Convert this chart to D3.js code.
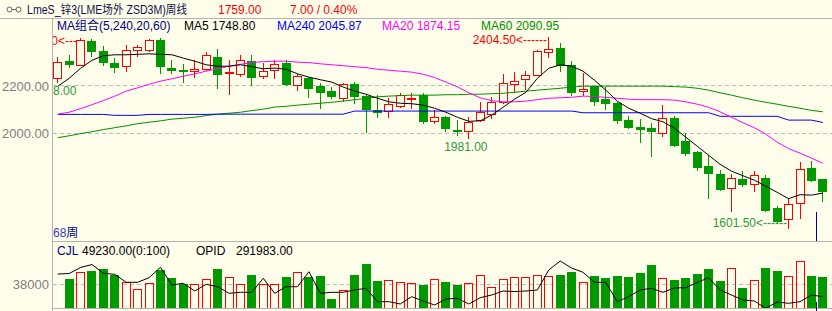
<!DOCTYPE html>
<meta charset="utf-8">
<style type="text/css">
body { margin: 0; background: #fffeea; }
#chart svg { display: block; font-family: "Liberation Sans", Arial, "Noto Sans CJK SC", sans-serif; font-size: 12px; }
.sep { stroke: #b4b4b4; shape-rendering: crispEdges; }
.grid { stroke: #bcbcbc; stroke-dasharray: 4,3; shape-rendering: crispEdges; }
.ma { fill: none; stroke-width: 1; }
.axis text { fill: #7f7f7f; font-size: 13px; font-family: "Liberation Sans", Arial, sans-serif; }
.axis path, .axis line { display: none; }
</style>
<body>
<div id="chart"></div>
<script src="https://d3js.org/d3.v7.min.js"></script>
<script>
// 68 weekly bars
var opens  = [2235, 2304, 2290, 2389, 2346, 2297, 2283, 2353, 2353, 2394, 2276, 2269, 2262, 2273, 2322, 2256, 2252, 2304, 2242, 2266,
              2297, 2203, 2234, 2200, 2179, 2151, 2210, 2157, 2098, 2095, 2116, 2145, 2161, 2054, 2067, 2016, 2010, 2056, 2081, 2133,
              2210, 2227, 2247, 2342, 2361, 2290, 2178, 2198, 2145, 2128, 2056, 2027, 2021, 2000, 2065, 1967, 1921, 1862, 1828, 1772,
              1810, 1789, 1814, 1688, 1637.5, 1709, 1856, 1807];
var highs  = [2321, 2329, 2400, 2398, 2366, 2317, 2371, 2371, 2399, 2402, 2308, 2294, 2308, 2343, 2354, 2308, 2332, 2329, 2297, 2308,
              2308, 2252, 2238, 2213, 2196, 2213, 2217, 2168, 2161, 2150, 2171, 2171, 2171, 2098, 2072, 2058, 2067, 2133, 2154, 2252,
              2258, 2263, 2352, 2404.5, 2379, 2305, 2253, 2201, 2197, 2133, 2072, 2060, 2042, 2119, 2072, 2000, 1925, 1908, 1845, 1831,
              1842, 1842, 1824, 1693, 1726, 1877.5, 1883, 1810];
var lows   = [2218, 2281, 2287, 2324, 2290, 2259, 2263, 2326, 2345, 2256, 2255, 2217, 2238, 2266, 2192, 2168, 2241, 2203, 2235, 2235,
              2203, 2182, 2154, 2107, 2148, 2137, 2128, 2006, 2069.5, 2070, 2112, 2105, 2044, 2042, 2010, 1992, 1981, 2053, 2063, 2126,
              2176, 2185, 2245, 2320, 2263, 2162, 2162, 2118, 2101, 2042, 2021, 1964, 1905, 1988, 1946, 1908, 1845, 1728.5, 1761, 1674,
              1778, 1758, 1675, 1626, 1601.5, 1642, 1801, 1716];
var closes = [2301, 2294, 2394, 2345, 2300, 2280, 2350, 2362, 2394, 2284, 2266, 2263, 2270, 2329, 2252, 2259, 2311, 2238, 2262, 2294,
              2210, 2241, 2192, 2175, 2157, 2207, 2157, 2101, 2091, 2122, 2161, 2151, 2051, 2067, 2021, 2010.5, 2048, 2091, 2133, 2213,
              2220, 2244, 2349, 2356, 2289, 2174, 2186, 2138, 2128, 2056, 2025, 2018, 2010.5, 2063, 1953, 1918, 1859, 1834, 1765, 1814,
              1786, 1824, 1677, 1630, 1702, 1852, 1803, 1759];
var volumes = [null, 46000, 58400, 60000, 63100, 53300, 41900, 30500, 40900, 61600, 48100, 39400, 39400, 46000, 63100, 50200, 39400, 53800, 38300, 39400,
               49100, 58400, 50200, 52200, 15000, 29000, 53800, 70900, 42900, 44500, 42500, 39800, 37500, 46000, 41400, 36700, 40900, 53300, 34700, 47100,
               50200, 50200, 53300, 51800, 53800, 58400, 42500, 50700, 47600, 50700, 49100, 56900, 69300, 48700, 44500, 47600, 55300, 63100, 42900, 64200,
               32100, 44500, 64700, 60000, 51800, 75500, 50700, 49230];
var opid = [337400, 338400, 350400, 356400, 338800, 336800, 320800, 320800, 330000, 350800, 315400, 318800, 303400, 316800, 312000, 298800, 300800, 300800, 328800, 298800,
            312000, 312000, 342000, 298800, 300800, 300800, 305400, 308800, 282000, 282000, 277400, 292000, 283400, 275400, 287400, 288800, 277400, 290000, 295400, 303400,
            302400, 303400, 305400, 345400, 363400, 349400, 340800, 320800, 320800, 282000, 292000, 305400, 308800, 300800, 309400, 310000, 320400, 330000, 305400, 295400,
            285400, 283400, 268800, 281400, 278800, 282000, 295400, 291983];

// moving averages as drawn
var ma5 = [2198, 2232, 2274, 2308, 2327, 2331, 2331, 2333, 2335, 2333, 2331, 2317, 2304, 2289, 2283, 2283, 2289, 2281, 2272, 2275,
           2270, 2251, 2237, 2226, 2216, 2195, 2178, 2165, 2148, 2133, 2127, 2125, 2119, 2106, 2089, 2068, 2051, 2053, 2077, 2110,
           2144, 2173, 2232, 2274, 2289, 2283, 2262, 2224, 2182, 2136, 2106, 2085, 2062, 2049, 2022, 1984, 1946, 1908, 1870, 1841,
           1822, 1803, 1778, 1752, 1725, 1742, 1740, 1748.8];
var ma20 = [2081, 2089, 2104, 2121, 2138, 2157, 2178, 2192, 2207, 2220, 2230, 2241, 2251, 2262, 2272, 2283, 2291, 2298, 2302, 2304,
            2304, 2300, 2298, 2293, 2289, 2285, 2281, 2277, 2270, 2266, 2262, 2258, 2249, 2235, 2216, 2196, 2171, 2150, 2138, 2133,
            2133, 2136, 2142, 2148, 2150, 2152, 2157, 2155, 2152, 2148, 2144, 2142, 2142, 2142, 2140, 2133, 2123, 2110, 2091, 2068,
            2045, 2024, 1997, 1963, 1936, 1917, 1896, 1874.15];
var ma60 = [1982, 1990, 1999, 2007, 2016, 2024, 2032, 2041, 2047, 2053, 2060, 2064, 2068, 2075, 2081, 2085, 2089, 2096, 2102, 2111,
            2114, 2119, 2123, 2127, 2131, 2136, 2142, 2147, 2154, 2157, 2159, 2161, 2161, 2161, 2163, 2163, 2165, 2165, 2167, 2169,
            2173, 2178, 2182, 2186, 2190, 2195, 2199, 2199, 2199, 2199, 2199, 2199, 2199, 2199, 2197, 2195, 2190, 2182, 2171, 2161,
            2150, 2140, 2131, 2123, 2114, 2106, 2097, 2090.95];
var ma240 = [2080, 2080, 2080, 2080, 2080, 2076, 2076, 2076, 2080, 2080, 2080, 2080, 2080, 2080, 2081, 2081, 2081, 2081, 2081, 2081,
             2081, 2081, 2081, 2081, 2081, 2081, 2094, 2094, 2094, 2094, 2094, 2094, 2094, 2094, 2094, 2094, 2094, 2094, 2094, 2094,
             2094, 2094, 2094, 2094, 2094, 2094, 2087, 2087, 2087, 2087, 2087, 2087, 2087, 2087, 2087, 2087, 2087, 2087, 2072, 2072,
             2072, 2072, 2072, 2072, 2056, 2056, 2056, 2045.87];

var priceTicks = [2000, 2200];
var volTicks = [38000];

var width = 832, height = 311, left = 52;
var n = opens.length;

var x = d3.scaleBand().domain(d3.range(n))
    .range([left, left + n * 11.42]).paddingInner(0.22).paddingOuter(0.11);
var y = d3.scaleLinear().domain([2000, 2200]).range([133.4, 85.9]);
var yVol = d3.scaleLinear().domain([0, 38000]).range([308.5, 284.5]);
var yOpid = d3.scaleLinear().domain([268000, 368000]).range([308.7, 258.7]);

var RED = "#ff0000", GREEN = "#009a00";

// pixel column of a bar's centre
function col(i) { return Math.round(x(i) + x.bandwidth() / 2 - 0.5); }
function mid(i) { return x(i) + x.bandwidth() / 2; }
function up(i) { return closes[i] >= opens[i]; }

var svg = d3.select("#chart").append("svg")
    .attr("width", width).attr("height", height);

svg.append("rect").attr("width", width).attr("height", height).attr("fill", "#fffeea");

var defs = svg.append("defs");
defs.append("clipPath").attr("id", "mainClip")
  .append("rect").attr("x", left + 1).attr("y", 19).attr("width", width - left - 1).attr("height", 222);
defs.append("clipPath").attr("id", "volClip")
  .append("rect").attr("x", left + 1).attr("y", 242).attr("width", width - left - 1).attr("height", 66);

// header
var icon = svg.append("g").attr("stroke", "#606060").attr("fill", "none");
icon.append("circle").attr("cx", 9.5).attr("cy", 9.5).attr("r", 2.5);
icon.append("circle").attr("cx", 18.5).attr("cy", 9.5).attr("r", 2.5);
icon.append("line").attr("x1", 12).attr("x2", 16).attr("y1", 9.5).attr("y2", 9.5);

svg.append("text").attr("x", 27).attr("y", 14).attr("fill", "#10104a")
    .attr("textLength", 160).attr("lengthAdjust", "spacingAndGlyphs")
    .text("LmeS_锌3(LME场外 ZSD3M)周线");
svg.append("text").attr("x", 218).attr("y", 14).attr("fill", RED).text("1759.00");
svg.append("text").attr("x", 290).attr("y", 14).attr("fill", RED).text("7.00 / 0.40%");

// frame lines
svg.append("line").attr("class", "sep").attr("x1", 0).attr("x2", width).attr("y1", 18.5).attr("y2", 18.5);
svg.append("line").attr("class", "sep").attr("x1", left + 0.5).attr("x2", left + 0.5).attr("y1", 18).attr("y2", height);
svg.append("line").attr("class", "sep").attr("x1", left).attr("x2", width).attr("y1", 241.5).attr("y2", 241.5);
svg.append("line").attr("class", "sep").attr("x1", left).attr("x2", width).attr("y1", 308.5).attr("y2", 308.5);

// grid + axes
svg.selectAll(".pgrid").data(priceTicks).enter().append("line")
    .attr("class", "grid")
    .attr("x1", left + 1).attr("x2", width)
    .attr("y1", function(d) { return Math.floor(y(d)) + 0.5; })
    .attr("y2", function(d) { return Math.floor(y(d)) + 0.5; });
svg.selectAll(".vgrid").data(volTicks).enter().append("line")
    .attr("class", "grid")
    .attr("x1", left + 1).attr("x2", width)
    .attr("y1", function(d) { return Math.floor(yVol(d)) + 0.5; })
    .attr("y2", function(d) { return Math.floor(yVol(d)) + 0.5; });

svg.append("g").attr("class", "axis")
    .attr("transform", "translate(" + left + ",0)")
    .call(d3.axisLeft(y).tickValues(priceTicks).tickFormat(d3.format(".2f")).tickSize(0).tickPadding(3));
svg.append("g").attr("class", "axis")
    .attr("transform", "translate(" + left + ",0)")
    .call(d3.axisLeft(yVol).tickValues(volTicks).tickFormat(d3.format("d")).tickSize(0).tickPadding(3));

// candles
var main = svg.append("g").attr("clip-path", "url(#mainClip)").attr("shape-rendering", "crispEdges");
d3.range(n).forEach(function(i) {
  var c = col(i);
  var yt = Math.round(y(Math.max(opens[i], closes[i])));
  var yb = Math.round(y(Math.min(opens[i], closes[i])));
  var yh = Math.round(y(highs[i]));
  var yl = Math.round(y(lows[i]));
  if (up(i)) {
    main.append("line").attr("x1", c + 0.5).attr("x2", c + 0.5).attr("y1", yh).attr("y2", yt).attr("stroke", RED);
    main.append("line").attr("x1", c + 0.5).attr("x2", c + 0.5).attr("y1", yb + 1).attr("y2", yl + 1).attr("stroke", RED);
    main.append("rect").attr("x", c - 3.5).attr("y", yt + 0.5).attr("width", 8).attr("height", Math.max(yb - yt, 1))
        .attr("fill", "none").attr("stroke", RED);
  } else {
    main.append("line").attr("x1", c + 0.5).attr("x2", c + 0.5).attr("y1", yh).attr("y2", yl + 1).attr("stroke", GREEN);
    main.append("rect").attr("x", c - 4).attr("y", yt).attr("width", 9).attr("height", Math.max(yb - yt + 1, 2))
        .attr("fill", GREEN);
  }
});

// moving averages
var maLine = function(arr) {
  return d3.line().x(function(d, i) { return mid(i); }).y(function(d) { return y(d); })(arr);
};
var lines = svg.append("g").attr("clip-path", "url(#mainClip)");
[[ma60, "#009000"], [ma240, "#0000ff"], [ma20, "#ff00ff"], [ma5, "#000000"]].forEach(function(m) {
  lines.append("path").attr("class", "ma").attr("d", maLine(m[0])).attr("stroke", m[1]);
});

// high / low markers
var marks = svg.append("g").attr("clip-path", "url(#mainClip)");
marks.append("text").attr("x", col(43) - 1).attr("y", y(highs[43]) + 7)
    .attr("text-anchor", "end").attr("fill", RED).text(d3.format(".2f")(highs[43]) + "<------");
marks.append("text").attr("x", col(2) - 3).attr("y", y(highs[2]) + 7)
    .attr("text-anchor", "end").attr("fill", RED).text(d3.format(".2f")(highs[2]) + "<---");
marks.append("text").attr("x", col(64) - 1).attr("y", y(lows[64]) - 1.5)
    .attr("text-anchor", "end").attr("fill", "#2c9a3c").text(d3.format(".2f")(lows[64]) + "<------");
marks.append("text").attr("x", mid(36) - 3).attr("y", y(lows[36]) + 13.5)
    .attr("text-anchor", "middle").attr("fill", "#2c9a3c").text(d3.format(".2f")(lows[36]));
// the first bar's low label runs under the price axis; only its tail shows
marks.append("text").attr("x", left + 1).attr("y", y(lows[0]) + 13.5)
    .attr("fill", "#2c9a3c").text(d3.format(".2f")(lows[0]).slice(-4));

// legend row
var leg = [["MA组合(5,240,20,60)", 57, "#000080"],
           ["MA5 " + d3.format(".2f")(ma5[n - 1]), 184, "#000000"],
           ["MA240 " + d3.format(".2f")(ma240[n - 1]), 277, "#0000ff"],
           ["MA20 " + d3.format(".2f")(ma20[n - 1]), 382, "#ff00ff"],
           ["MA60 " + d3.format(".2f")(ma60[n - 1]), 481, "#009000"]];
leg.forEach(function(l) {
  svg.append("text").attr("x", l[1]).attr("y", 30).attr("fill", l[2]).text(l[0]);
});

var wk = svg.append("text").attr("x", 53).attr("y", 237);
wk.append("tspan").attr("fill", "#3a3ac8").text(n);
wk.append("tspan").attr("fill", "#000080").text("周");

// cursor marker
svg.append("line").attr("x1", 816.5).attr("x2", 816.5).attr("y1", 212).attr("y2", 241)
    .attr("stroke", "#0000a0").attr("shape-rendering", "crispEdges");
svg.append("line").attr("x1", 816.5).attr("x2", 816.5).attr("y1", 302).attr("y2", 311)
    .attr("stroke", "#0000a0").attr("shape-rendering", "crispEdges");

// volume panel
var vol = svg.append("g").attr("clip-path", "url(#volClip)").attr("shape-rendering", "crispEdges");
d3.range(n).forEach(function(i) {
  if (volumes[i] == null) return;
  var c = col(i);
  var yt = Math.round(yVol(volumes[i]));
  if (up(i)) {
    vol.append("rect").attr("x", c - 3.5).attr("y", yt + 0.5).attr("width", 8).attr("height", 308 - yt)
        .attr("fill", "none").attr("stroke", RED);
  } else {
    vol.append("rect").attr("x", c - 4).attr("y", yt).attr("width", 9).attr("height", 308 - yt)
        .attr("fill", GREEN);
  }
});
svg.append("g").attr("clip-path", "url(#volClip)").append("path").attr("class", "ma")
    .attr("stroke", "#000000")
    .attr("d", d3.line().x(function(d, i) { return mid(i); }).y(function(d) { return yOpid(d); })(opid));

var vl = svg.append("text").attr("y", 255);
vl.append("tspan").attr("x", 57).attr("fill", "#000080").text("CJL");
vl.append("tspan").attr("x", 82).attr("fill", "#000000").text(d3.format(".2f")(volumes[n - 1]) + "(0:100)");
vl.append("tspan").attr("x", 196).attr("fill", "#000000").text("OPID");
vl.append("tspan").attr("x", 236).attr("fill", "#000000").text(d3.format(".2f")(opid[n - 1]));
</script>
</body>
